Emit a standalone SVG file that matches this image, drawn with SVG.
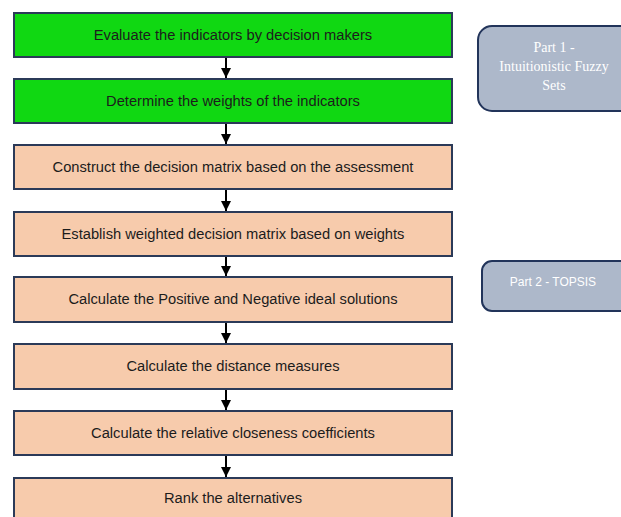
<svg xmlns="http://www.w3.org/2000/svg" width="621" height="517" viewBox="0 0 621 517">
<style>
.g{fill:#10d812;stroke:#2b3a58;stroke-width:2}
.p{fill:#f7cbac;stroke:#2b3a58;stroke-width:2}
.t{font-family:"Liberation Sans",Arial,sans-serif;font-size:14.7px;fill:#1c1c1c;text-anchor:middle}
.side{fill:#adb8ca;stroke:#22345a;stroke-width:2}
.s1{font-family:"Liberation Serif","Times New Roman",serif;font-size:14px;fill:#ffffff;text-anchor:middle}
.s2{font-family:"Liberation Sans",Arial,sans-serif;font-size:12px;fill:#ffffff;text-anchor:middle}
.c{stroke:#000;stroke-width:2;fill:none;marker-end:url(#ah)}
</style>
<defs>
<marker id="ah" markerWidth="10" markerHeight="10" refX="10" refY="5" orient="auto" markerUnits="userSpaceOnUse">
<path d="M0,0 L10,5 L0,10 Z" fill="#000"/>
</marker>
</defs>
<rect width="621" height="517" fill="#fff"/>
<g id="n1"><rect class="g" x="14" y="13" width="438" height="44"/><text class="t" x="233" y="40">Evaluate the indicators  by decision  makers</text></g>
<g id="n2"><rect class="g" x="14" y="79" width="438" height="44"/><text class="t" x="233" y="106">Determine the weights of the indicators</text></g>
<g id="n3"><rect class="p" x="14" y="145" width="438" height="44"/><text class="t" x="233" y="172">Construct the decision matrix based on the assessment</text></g>
<g id="n4"><rect class="p" x="14" y="212" width="438" height="44"/><text class="t" x="233" y="239">Establish weighted decision matrix based on weights</text></g>
<g id="n5"><rect class="p" x="14" y="277" width="438" height="45"/><text class="t" x="233" y="304">Calculate the Positive and Negative ideal solutions</text></g>
<g id="n6"><rect class="p" x="14" y="344" width="438" height="45"/><text class="t" x="233" y="371">Calculate the distance measures</text></g>
<g id="n7"><rect class="p" x="14" y="411" width="438" height="44"/><text class="t" x="233" y="438">Calculate the relative closeness coefficients</text></g>
<g id="n8"><rect class="p" x="14" y="478" width="438" height="50"/><text class="t" x="233" y="503">Rank the alternatives</text></g>
<g id="part1"><rect class="side" x="478" y="26" width="170" height="85" rx="14"/><text class="s1" x="554" y="52">Part 1 -</text><text class="s1" x="554" y="71">Intuitionistic  Fuzzy</text><text class="s1" x="554" y="90">Sets</text></g>
<g id="part2"><rect class="side" x="482" y="261" width="170" height="50" rx="10"/><text class="s2" x="553" y="286">Part 2 - TOPSIS</text></g>
<g id="connectors">
<line class="c" x1="226" y1="58" x2="226" y2="78"/>
<line class="c" x1="226" y1="124" x2="226" y2="144"/>
<line class="c" x1="226" y1="190" x2="226" y2="211"/>
<line class="c" x1="226" y1="257" x2="226" y2="276"/>
<line class="c" x1="226" y1="323" x2="226" y2="343"/>
<line class="c" x1="226" y1="390" x2="226" y2="410"/>
<line class="c" x1="226" y1="456" x2="226" y2="477"/>
</g>
</svg>
